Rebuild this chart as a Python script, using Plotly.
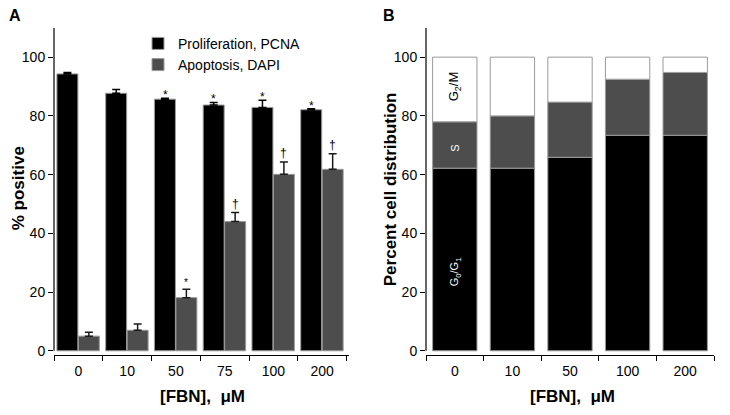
import plotly.graph_objects as go
import numpy as np

# ---- Panel A data ----
doses_a = ["0", "10", "50", "75", "100", "200"]
pcna = [94.3, 87.7, 85.7, 83.7, 82.9, 82.1]
pcna_err = [0.5, 1.3, 0.3, 0.9, 2.4, 0.3]
dapi = [5.0, 7.0, 18.1, 44.0, 60.1, 61.8]
dapi_err = [1.3, 2.1, 2.9, 3.1, 4.2, 5.3]
pcna_marks = ["", "", "*", "*", "*", "*"]
dapi_marks = ["", "", "*", "\u2020", "\u2020", "\u2020"]

# ---- Panel B data ----
doses_b = ["0", "10", "50", "100", "200"]
g0g1 = [62.2, 62.2, 65.9, 73.4, 73.4]
s_phase = [15.8, 17.8, 18.8, 19.1, 21.4]
g2m = [22.0, 20.0, 15.3, 7.5, 5.2]

W, H = 730, 415
OFF = 8  # page body margin
FONT = "Liberation Sans, Arial, sans-serif"
GRAY = "#4d4d4d"
EDGE = "#9a9a9a"


def px_x(p):
    return (p - OFF) / W


def px_y(p):
    return (H - (p - OFF)) / H


fig = go.Figure()

bw = 0.43
fig.add_trace(go.Bar(
    x=doses_a, y=pcna, name="Proliferation, PCNA", xaxis="x", yaxis="y",
    width=bw, offset=-bw - 0.01,
    marker=dict(color="black", line=dict(color=EDGE, width=1)),
    error_y=dict(type="data", array=pcna_err, arrayminus=[0] * len(pcna_err),
                 symmetric=False, color="black", thickness=1.5, width=4),
))
fig.add_trace(go.Bar(
    x=doses_a, y=dapi, name="Apoptosis, DAPI", xaxis="x", yaxis="y",
    width=bw, offset=0,
    marker=dict(color=GRAY, line=dict(color=EDGE, width=1)),
    error_y=dict(type="data", array=dapi_err, arrayminus=[0] * len(dapi_err),
                 symmetric=False, color="#1a1a1a", thickness=1.5, width=4),
))

# Panel B stacked via base
g0 = np.array(g0g1)
s = np.array(s_phase)
g2 = np.array(g2m)
bwb = 0.77
for vals, base, col in [(g0, None, "black"), (s, g0, GRAY), (g2, g0 + s, "white")]:
    fig.add_trace(go.Bar(
        x=doses_b, y=vals, base=base, xaxis="x2", yaxis="y2", showlegend=False,
        width=bwb, offset=-bwb / 2,
        marker=dict(color=col, line=dict(color=EDGE, width=1)),
    ))

ydom = [px_y(358), px_y(28)]
yrange = [-1.3, 110]
tickfont = dict(family=FONT, size=14, color="black")

common_x = dict(type="category", tickson="boundaries", ticks="outside", ticklen=5,
                tickwidth=1, tickcolor="black", showline=True, linecolor="black",
                linewidth=1.2, showgrid=False, zeroline=False, tickfont=tickfont,
                ticklabelstandoff=3)
common_y = dict(range=yrange, tickvals=[0, 20, 40, 60, 80, 100], ticks="outside",
                ticklen=5, tickwidth=1, tickcolor="black", showline=False,
                showgrid=False, zeroline=False, tickfont=tickfont)

fig.update_layout(
    width=W, height=H, margin=dict(l=0, r=0, t=0, b=0),
    plot_bgcolor="white", paper_bgcolor="white",
    barmode="overlay",
    font=dict(family=FONT, color="black"),
    xaxis=dict(domain=[px_x(54), px_x(349)], range=[-0.5, 5.55], anchor="y", **common_x),
    yaxis=dict(domain=ydom, anchor="x", **common_y),
    xaxis2=dict(domain=[px_x(426), px_x(714)], range=[-0.5, 4.5], anchor="y2", **common_x),
    yaxis2=dict(domain=ydom, anchor="x2", **common_y),
    legend=dict(x=px_x(138), y=px_y(28), xanchor="left", yanchor="top",
                font=dict(family=FONT, size=14, color="black"),
                bgcolor="rgba(0,0,0,0)", tracegroupgap=0, itemwidth=30),
    showlegend=True,
)

# y-axis lines (end at 0, slightly above the x-axis line)
for xr, yr in [("x domain", "y"), ("x2 domain", "y2")]:
    fig.add_shape(type="line", xref=xr, yref=yr, x0=0, x1=0, y0=0, y1=110,
                  line=dict(color="black", width=1.2))

ann = []
# numeric category index positions for significance marks
for i in range(len(doses_a)):
    if pcna_marks[i]:
        ann.append(dict(x=i - bw / 2 - 0.005, y=pcna[i] + pcna_err[i], xref="x", yref="y",
                        text=pcna_marks[i], showarrow=False, yshift=-6,
                        xanchor="center", yanchor="bottom",
                        font=dict(family=FONT, size=12, color="black")))
    if dapi_marks[i]:
        sz = 10 if dapi_marks[i] == "*" else 12
        ys = -1 if dapi_marks[i] == "*" else 0
        ann.append(dict(x=i + bw / 2, y=dapi[i] + dapi_err[i], xref="x", yref="y",
                        text=dapi_marks[i], showarrow=False, yshift=ys,
                        xanchor="center", yanchor="bottom",
                        font=dict(family=FONT, size=sz, color="black")))

# phase labels in first bar of panel B (rotated)
ann.append(dict(x=0, y=g0[0] + s[0] + g2[0] / 2 + 1, xref="x2", yref="y2",
                text="G<sub>2</sub>/M", textangle=-90, showarrow=False,
                xanchor="center", yanchor="middle",
                font=dict(family=FONT, size=13, color="black")))
ann.append(dict(x=0, y=g0[0] + s[0] / 2 - 1, xref="x2", yref="y2",
                text="S", textangle=-90, showarrow=False,
                xanchor="center", yanchor="middle",
                font=dict(family=FONT, size=11, color="white")))
ann.append(dict(x=0, y=27, xref="x2", yref="y2",
                text="G<sub>0</sub>/G<sub>1</sub>", textangle=-90, showarrow=False,
                xanchor="center", yanchor="middle",
                font=dict(family=FONT, size=11, color="white")))

# panel letters and axis titles
bold = dict(family=FONT, size=16, color="black")
tbold = dict(family=FONT, size=17, color="black")
ctr = dict(xref="paper", yref="paper", showarrow=False, xanchor="center", yanchor="middle")
ann += [
    dict(x=px_x(15), y=px_y(16), text="<b>A</b>", font=bold, **ctr),
    dict(x=px_x(389), y=px_y(16), text="<b>B</b>", font=bold, **ctr),
    dict(x=px_x(18), y=px_y(190), text="<b>% positive</b>", textangle=-90, font=tbold, **ctr),
    dict(x=px_x(390), y=px_y(191), text="<b>Percent cell distribution</b>", textangle=-90,
         font=tbold, **ctr),
    dict(x=px_x(202), y=px_y(400), text="<b>[FBN],&nbsp; \u03bcM</b>", font=tbold, **ctr),
    dict(x=px_x(572), y=px_y(400), text="<b>[FBN],&nbsp; \u03bcM</b>", font=tbold, **ctr),
]
fig.update_layout(annotations=ann)

fig.write_html("out.html")
